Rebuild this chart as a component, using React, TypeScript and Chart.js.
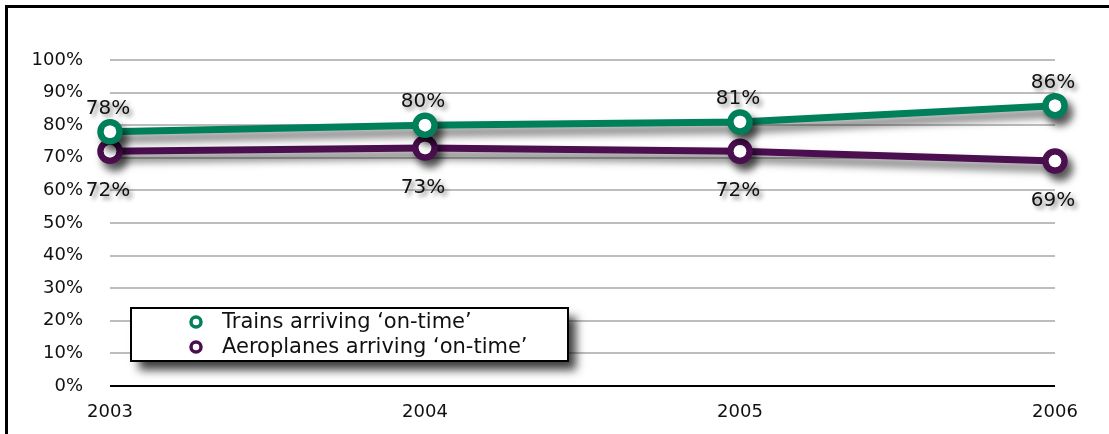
import React, { useEffect, useRef } from "react";
import { Chart, registerables } from "chart.js";

Chart.register(...registerables);

// Data
const years = ["2003", "2004", "2005", "2006"];
const trainsOnTime = [78, 80, 81, 86];
const planesOnTime = [72, 73, 72, 69];
const seriesNames = ["Trains arriving \u2018on-time\u2019", "Aeroplanes arriving \u2018on-time\u2019"];
const yTickValues = [0, 10, 20, 30, 40, 50, 60, 70, 80, 90, 100];

const GREEN = "#00805A";
const PURPLE = "#4B0E4F";
const FONT = "'DejaVu Sans', Verdana, sans-serif";
const POINT_RADIUS = 9.5;
const POINT_BORDER = 6.5;

// Outer frame (top and left edges of the panel)
const framePlugin = {
  id: "frame",
  beforeDraw(chart: any) {
    const ctx = chart.ctx;
    ctx.save();
    ctx.fillStyle = "#000";
    ctx.fillRect(5, 5, chart.width - 5, 3);
    ctx.fillRect(5, 5, 3, chart.height - 5);
    ctx.restore();
  },
};

// Soft drop shadow under lines and markers; marker holes are repainted clean afterwards
const shadowPlugin = {
  id: "dropShadow",
  beforeDatasetDraw(chart: any) {
    const ctx = chart.ctx;
    ctx.save();
    ctx.shadowColor = "rgba(0,0,0,0.6)";
    ctx.shadowBlur = 9;
    ctx.shadowOffsetX = 5;
    ctx.shadowOffsetY = 7;
  },
  afterDatasetDraw(chart: any, args: any) {
    const ctx = chart.ctx;
    ctx.restore();
    const meta = chart.getDatasetMeta(args.index);
    ctx.save();
    ctx.fillStyle = "#fff";
    meta.data.forEach((pt: any) => {
      ctx.beginPath();
      ctx.arc(pt.x, pt.y, POINT_RADIUS - POINT_BORDER / 2, 0, Math.PI * 2);
      ctx.fill();
    });
    ctx.restore();
  },
};

// Value labels: trains above the marker, aeroplanes below
const valueLabelPlugin = {
  id: "valueLabels",
  afterDatasetsDraw(chart: any) {
    const ctx = chart.ctx;
    ctx.save();
    ctx.font = `20px ${FONT}`;
    ctx.textAlign = "center";
    ctx.textBaseline = "middle";
    ctx.fillStyle = "#111";
    ctx.shadowColor = "rgba(0,0,0,0.5)";
    ctx.shadowBlur = 4;
    ctx.shadowOffsetX = 3;
    ctx.shadowOffsetY = 3;
    chart.data.datasets.forEach((ds: any, di: number) => {
      const meta = chart.getDatasetMeta(di);
      meta.data.forEach((pt: any, i: number) => {
        const dy = di === 0 ? -23 : 40;
        ctx.fillText(`${ds.data[i]}%`, pt.x - 2, pt.y + dy);
      });
    });
    ctx.restore();
  },
};

// Boxed legend inside the plot
const boxLegendPlugin = {
  id: "boxLegend",
  afterDraw(chart: any) {
    const ctx = chart.ctx;
    const x = 131, y = 308, w = 437, h = 53;
    ctx.save();
    ctx.shadowColor = "rgba(0,0,0,0.75)";
    ctx.shadowBlur = 9;
    ctx.shadowOffsetX = 8;
    ctx.shadowOffsetY = 9;
    ctx.fillStyle = "#fff";
    ctx.fillRect(x, y, w, h);
    ctx.restore();

    ctx.save();
    ctx.strokeStyle = "#000";
    ctx.lineWidth = 2;
    ctx.strokeRect(x, y, w, h);
    ctx.font = `21px ${FONT}`;
    ctx.textBaseline = "middle";
    chart.data.datasets.forEach((ds: any, i: number) => {
      const cy = 322 + i * 25;
      ctx.beginPath();
      ctx.arc(196, cy, 5, 0, Math.PI * 2);
      ctx.fillStyle = "#fff";
      ctx.fill();
      ctx.lineWidth = 3.5;
      ctx.strokeStyle = ds.borderColor;
      ctx.stroke();
      ctx.fillStyle = "#111";
      ctx.fillText(ds.label, 222, cy + 1);
    });
    ctx.restore();
  },
};

export default function App() {
  const canvasRef = useRef<HTMLCanvasElement | null>(null);

  useEffect(() => {
    const canvas = canvasRef.current;
    if (!canvas) return;

    const makeSet = (label: string, data: number[], color: string) => ({
      label,
      data,
      borderColor: color,
      backgroundColor: color,
      borderWidth: 7,
      pointRadius: POINT_RADIUS,
      pointHoverRadius: POINT_RADIUS,
      pointBorderWidth: POINT_BORDER,
      pointBackgroundColor: "#fff",
      pointBorderColor: color,
      tension: 0,
      clip: false as any,
    });

    const chart = new Chart(canvas, {
      type: "line",
      data: {
        labels: years,
        datasets: [
          makeSet(seriesNames[0], trainsOnTime, GREEN),
          makeSet(seriesNames[1], planesOnTime, PURPLE),
        ],
      },
      options: {
        animation: false,
        responsive: false,
        maintainAspectRatio: false,
        events: [],
        layout: { padding: { left: 0, right: 54, top: 60, bottom: 0 } },
        plugins: {
          legend: { display: false },
          tooltip: { enabled: false },
        },
        scales: {
          x: {
            type: "category",
            offset: false,
            grid: { display: false, drawTicks: false },
            border: { display: false },
            ticks: {
              font: { family: FONT, size: 18 },
              color: "#111",
              padding: 16,
              maxRotation: 0,
              autoSkip: false,
            },
            afterFit(scale: any) {
              scale.height = 48;
            },
          },
          y: {
            min: 0,
            max: 100,
            afterBuildTicks(scale: any) {
              scale.ticks = yTickValues.map((v) => ({ value: v }));
            },
            grid: {
              drawTicks: false,
              lineWidth: 2,
              color: (c: any) => (c.tick && c.tick.value === 0 ? "#000" : "#BDBDBD"),
            },
            border: { display: false },
            ticks: {
              font: { family: FONT, size: 18 },
              color: "#111",
              padding: 27,
              callback: (v: any) => `${v}%`,
            },
            afterFit(scale: any) {
              scale.width = 110;
            },
          },
        },
      },
      plugins: [framePlugin, shadowPlugin, valueLabelPlugin, boxLegendPlugin],
    });

    return () => chart.destroy();
  }, []);

  return (
    <div style={{ position: "absolute", left: 0, top: 0, width: 1109, height: 434, background: "#fff" }}>
      <canvas ref={canvasRef} width={1109} height={434} style={{ display: "block" }} />
    </div>
  );
}
